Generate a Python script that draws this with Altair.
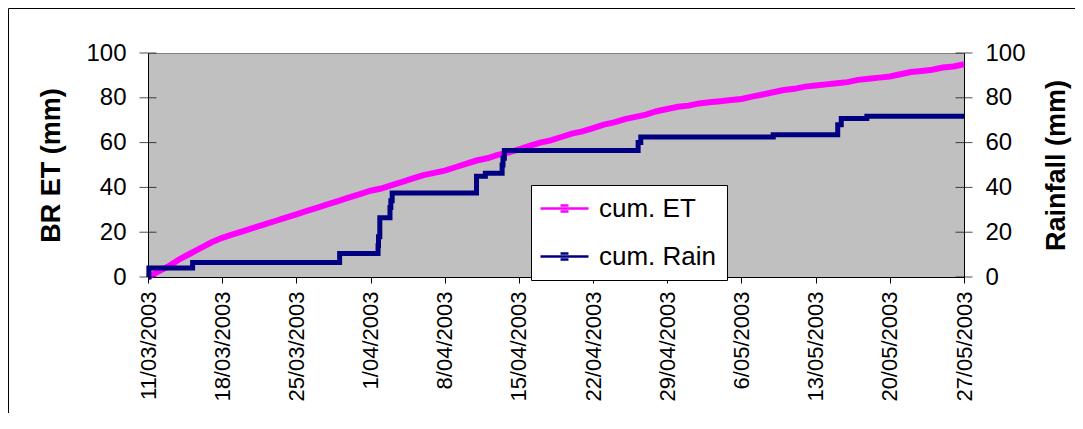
import altair as alt
import pandas as pd

# ---------------- data ----------------
series_names = ["cum. ET", "cum. Rain"]
series_colors = ["#FF00FF", "#000080"]

# cumulative ET (mm), one value per day from 11/03/2003 to 27/05/2003
et_values = [0, 2.5, 5, 8, 10.5, 13, 15.5, 17.5, 19, 20.5,
             22, 23.5, 25, 26.5, 28, 29.5, 31, 32.5, 34, 35.5,
             37, 38.5, 39.5, 41, 42.5, 44, 45.5, 46.5, 47.5, 49,
             50.5, 52, 53, 54.5, 55.5, 57, 58.5, 60, 61, 62.5,
             64, 65, 66.5, 68, 69, 70.5, 71.5, 72.5, 74, 75,
             76, 76.5, 77.5, 78, 78.5, 79, 79.5, 80.5, 81.5, 82.5,
             83.5, 84, 85, 85.5, 86, 86.5, 87, 88, 88.5, 89,
             89.5, 90.5, 91.5, 92, 92.5, 93.5, 94, 95]
et_start = "2003-03-11"

# cumulative rain (mm), stepwise events
rain_times = ["2003-03-11T00:00:00", "2003-03-11T02:00:00", "2003-03-15T05:00:00",
              "2003-03-29T02:00:00", "2003-04-01T17:00:00", "2003-04-01T18:00:00",
              "2003-04-01T21:00:00", "2003-04-02T20:00:00", "2003-04-02T22:00:00",
              "2003-04-03T01:00:00", "2003-04-11T00:00:00", "2003-04-11T20:00:00",
              "2003-04-13T10:00:00", "2003-04-13T12:00:00", "2003-04-13T15:00:00",
              "2003-04-26T06:00:00", "2003-04-26T12:00:00", "2003-05-09T00:00:00",
              "2003-05-15T02:00:00", "2003-05-15T10:00:00", "2003-05-17T20:00:00",
              "2003-05-27T00:00:00"]
rain_values = [0, 4, 6.5,
               10.5, 14, 18,
               26.5, 31, 34,
               37.5, 45, 46.3,
               50, 53, 56.5,
               60, 62.5, 63.5,
               68, 70.8, 71.8,
               71.8]

y_ticks = [0, 20, 40, 60, 80, 100]
x_tick_days = [(2003, 3, 11), (2003, 3, 18), (2003, 3, 25), (2003, 4, 1),
               (2003, 4, 8), (2003, 4, 15), (2003, 4, 22), (2003, 4, 29),
               (2003, 5, 6), (2003, 5, 13), (2003, 5, 20), (2003, 5, 27)]

# ---------------- tables ----------------
et_dates = pd.date_range(et_start, periods=len(et_values), freq="D")
et_df = pd.DataFrame({"date": et_dates.strftime("%Y-%m-%dT%H:%M:%S"),
                      "value": et_values, "series": series_names[0]})
rain_df = pd.DataFrame({"date": rain_times, "value": rain_values,
                        "series": series_names[1]})
ticks_df = pd.DataFrame({"v": y_ticks})
frame_df = pd.DataFrame({"k": [0]})

FONT = "Liberation Sans"
W, H = 816, 224

def dt(t):
    return alt.DateTime(year=t[0], month=t[1], date=t[2])

x_enc = alt.X(
    "date:T",
    scale=alt.Scale(domain=[dt(x_tick_days[0]), dt(x_tick_days[-1])]),
    axis=alt.Axis(values=[dt(t) for t in x_tick_days], format="%-d/%m/%Y",
                  labelAngle=270, labelFont=FONT, labelFontSize=22,
                  labelColor="black", labelPadding=8, tickSize=6,
                  tickColor="black", domainColor="black", grid=False),
    title=None,
)

legend_symbol = ("M-2,0H2M-0.33,-0.25H0.33M-0.33,0H0.33M-0.33,0.25H0.33")

color_enc = alt.Color(
    "series:N",
    scale=alt.Scale(domain=series_names, range=series_colors),
    legend=alt.Legend(title=None, orient="none", legendX=383, legendY=132,
                      fillColor="white", strokeColor="black", padding=10,
                      labelFont=FONT, labelFontSize=26, labelColor="black",
                      symbolType=legend_symbol, symbolSize=576,
                      symbolStrokeWidth=2.5, symbolOffset=10, labelOffset=21,
                      rowPadding=21),
)

et_line = alt.Chart(et_df).mark_line(strokeWidth=6).encode(
    x=x_enc,
    y=alt.Y("value:Q", scale=alt.Scale(domain=[0, 100]),
            axis=alt.Axis(orient="left", values=y_ticks, ticks=False,
                          labelPadding=22, labelFont=FONT, labelFontSize=24,
                          labelColor="black", domainColor="black", grid=False,
                          title="BR ET (mm)", titleFont=FONT, titleFontSize=27,
                          titleFontWeight="bold", titleColor="black",
                          titlePadding=20)),
    color=color_enc,
)

rain_line = alt.Chart(rain_df).mark_line(strokeWidth=5, interpolate="step-after").encode(
    x=x_enc,
    y=alt.Y("value:Q", scale=alt.Scale(domain=[0, 100]),
            axis=alt.Axis(orient="right", values=y_ticks, ticks=False,
                          labelPadding=21, labelFont=FONT, labelFontSize=24,
                          labelColor="black", domainColor="black", grid=False,
                          title="Rainfall (mm)", titleFont=FONT, titleFontSize=27,
                          titleFontWeight="bold", titleColor="black",
                          titleAngle=270, titleBaseline="top", titlePadding=18)),
    color=color_enc,
)

left_ticks = alt.Chart(ticks_df).mark_tick(orient="horizontal", size=17, thickness=1,
                                           color="black").encode(
    y=alt.Y("v:Q", scale=alt.Scale(domain=[0, 100]), axis=None),
    x=alt.value(0),
)
right_ticks = alt.Chart(ticks_df).mark_tick(orient="horizontal", size=17, thickness=1,
                                            color="black").encode(
    y=alt.Y("v:Q", scale=alt.Scale(domain=[0, 100]), axis=None),
    x=alt.value(W),
)

frame = alt.Chart(frame_df).mark_rect(filled=False, stroke="black", strokeWidth=1).encode(
    x=alt.value(-139.5), x2=alt.value(1000), y=alt.value(-44.5), y2=alt.value(500),
)

chart = alt.layer(frame, et_line, rain_line, left_ticks, right_ticks).resolve_scale(
    y="independent"
).properties(
    width=W, height=H,
    padding={"left": 140, "top": 45, "right": 111, "bottom": 136},
    autosize=alt.AutoSizeParams(type="none"),
    background="white",
).configure_view(
    fill="#C0C0C0", stroke="#808080", strokeWidth=1
)

chart.save("out.html", embed_options={"renderer": "svg", "actions": False})
